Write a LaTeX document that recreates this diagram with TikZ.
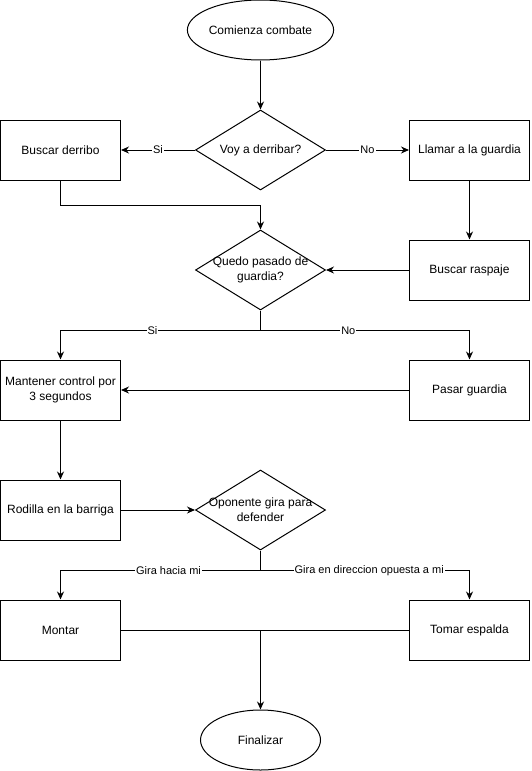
\documentclass[tikz,border=0pt]{standalone}
\usepackage{fontspec}
\setmainfont{Liberation Sans}
\usetikzlibrary{shapes.geometric,arrows.meta,positioning}

\tikzset{
  proceso/.style={rectangle, draw, minimum width=120pt, minimum height=60pt,
    inner sep=2pt, align=center, font=\fontsize{12}{15}\selectfont},
  terminal/.style={ellipse, draw, minimum width=120pt, minimum height=60pt,
    inner sep=0pt, align=center, font=\fontsize{12}{15}\selectfont},
  decision/.style={diamond, draw, minimum width=130pt, minimum height=80pt,
    inner sep=0pt, aspect=1.625},
  texto/.style={align=center, font=\fontsize{12}{15}\selectfont},
  etiqueta/.style={fill=white, inner sep=1pt, font=\fontsize{11}{13}\selectfont}
}

\begin{document}
\begin{tikzpicture}[x=1pt,y=1pt,node distance=120pt,on grid,line width=1pt,
  >={Stealth[length=8pt,width=7pt]}]
  \useasboundingbox (0,0) rectangle (531,-771);

   \node[terminal] (inicio) at (260.5,-30) {Comienza combate};

   \node[decision,label={[texto]center:Voy a derribar?}] (derribar) [below=of inicio] {};
   \node[proceso] (derribo) [left=200pt of derribar] {Buscar derribo};
   \node[proceso] (guardia) [right=209pt of derribar] {Llamar a la guardia};

   \node[decision,label={[texto]center:Quedo pasado de\\guardia?}] (pasado) [below=of derribar] {};
   \node[proceso] (raspaje) [below=of guardia] {Buscar raspaje};

   \node[proceso] (mantener) [below=240pt of derribo] {Mantener control por\\3 segundos};
   \node[proceso] (pasar) [below=of raspaje] {Pasar guardia};

   \node[proceso] (rodilla) [below=of mantener] {Rodilla en la barriga};
   \node[decision,label={[texto]center:Oponente gira para\\defender}] (gira) [below=240pt of pasado] {};

   \node[proceso] (montar) [below=of rodilla] {Montar};
   \node[proceso] (espalda) [below=240pt of pasar] {Tomar espalda};

   \node[terminal] (fin) [below=230pt of gira] {Finalizar};

   \coordinate (splitq) at ([yshift=-20pt]pasado.south);
   \coordinate (splitg) at ([yshift=-20pt]gira.south);
   \coordinate (union) at (montar -| fin);

    \path[->]
    (inicio) edge (derribar)
    (derribar) edge node[etiqueta] {Si} (derribo)
               edge node[etiqueta] {No} (guardia)
    (guardia) edge (raspaje)
    (raspaje) edge (pasado)
    (pasar) edge (mantener)
    (mantener) edge (rodilla)
    (rodilla) edge (gira);

    \draw[->] (derribo.south) -- ++(0,-25) -| (pasado.north);

    \draw (pasado.south) -- (splitq);
    \draw[->] (splitq) -| node[etiqueta,pos=0.27] {Si} (mantener.north);
    \draw[->] (splitq) -| node[etiqueta,pos=0.21] {No} (pasar.north);

    \draw (gira.south) -- (splitg);
    \draw[->] (splitg) -| node[etiqueta,pos=0.23] {Gira hacia mi} (montar.north);
    \draw[->] (splitg) -| node[etiqueta,pos=0.26] {Gira en direccion opuesta a mi} (espalda.north);

    \draw (montar) -- (union);
    \draw (espalda) -- (union);
    \draw[->] (union) -- (fin);
\end{tikzpicture}
\end{document}
